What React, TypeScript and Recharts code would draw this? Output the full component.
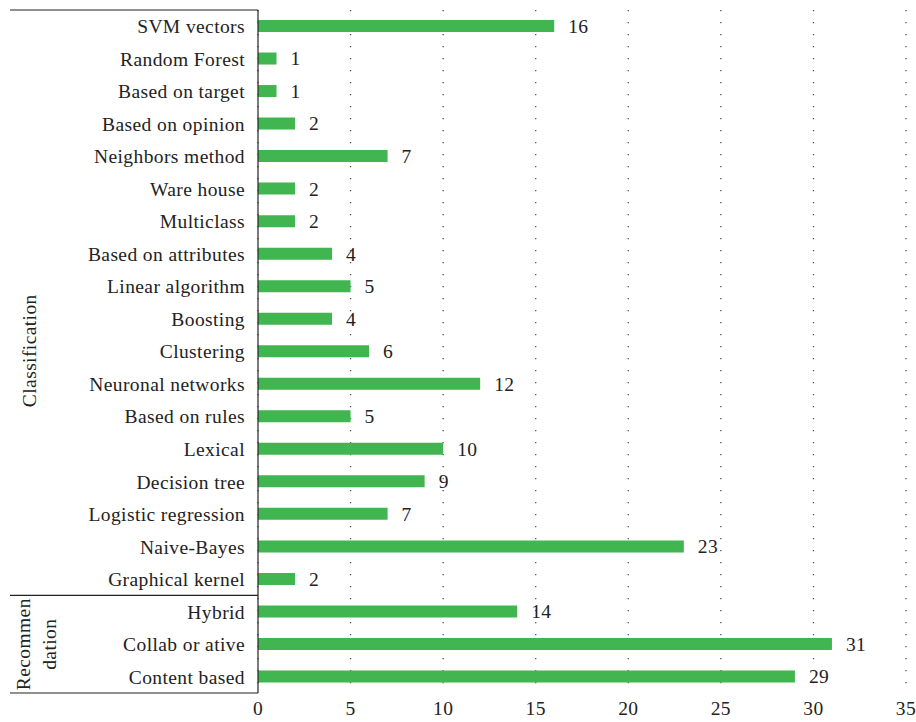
import React from 'react';
import { BarChart, Bar, XAxis, YAxis, CartesianGrid, LabelList } from 'recharts';

// categories top to bottom
const classificationMethods = [
  'SVM vectors', 'Random Forest', 'Based on target', 'Based on opinion', 'Neighbors method',
  'Ware house', 'Multiclass', 'Based on attributes', 'Linear algorithm', 'Boosting',
  'Clustering', 'Neuronal networks', 'Based on rules', 'Lexical', 'Decision tree',
  'Logistic regression', 'Naive-Bayes', 'Graphical kernel',
];
const classificationCounts = [16, 1, 1, 2, 7, 2, 2, 4, 5, 4, 6, 12, 5, 10, 9, 7, 23, 2];

const recommendationMethods = ['Hybrid', 'Collab or ative', 'Content based'];
const recommendationCounts = [14, 31, 29];

const xTicks = [0, 5, 10, 15, 20, 25, 30, 35];

const data = [
  ...classificationMethods.map((name, i) => ({ name, value: classificationCounts[i] })),
  ...recommendationMethods.map((name, i) => ({ name, value: recommendationCounts[i] })),
];

const W = 916;
const H = 722;
const TOP = 10;
const LEFT = 258;
const XAXIS_H = 29;
const BOTTOM = H - XAXIS_H;
const FONT = '"Liberation Serif", "Times New Roman", serif';
const textStyle = { fontSize: 19.5, fill: '#222', fontFamily: FONT, letterSpacing: 0.4 };

const App: React.FC = () => {
  const band = (BOTTOM - TOP) / data.length;
  const splitY = TOP + classificationMethods.length * band;
  const classMid = (TOP + splitY) / 2 + 48;
  const recMid = (splitY + BOTTOM) / 2;

  return (
    <div style={{ position: 'absolute', left: 0, top: 0, width: W, height: H, background: '#fff' }}>
      <BarChart
        width={W}
        height={H}
        data={data}
        layout="vertical"
        margin={{ top: TOP, right: 10, bottom: 0, left: 0 }}
        barCategoryGap={0}
      >
        <CartesianGrid horizontal={false} vertical={true} stroke="#555" strokeWidth={1.3} strokeDasharray="1.3 10.7" />
        <XAxis
          type="number"
          domain={[0, 35]}
          ticks={xTicks}
          height={XAXIS_H}
          axisLine={false}
          tickLine={false}
          tickMargin={2}
          tick={textStyle}
          interval={0}
        />
        <YAxis
          type="category"
          dataKey="name"
          width={LEFT}
          axisLine={{ stroke: '#222', strokeWidth: 1.2 }}
          tickLine={false}
          tickMargin={7}
          interval={0}
          tick={textStyle}
        />
        <Bar dataKey="value" fill="#41b54f" barSize={12} isAnimationActive={false}>
          <LabelList dataKey="value" position="right" offset={14} style={textStyle} />
        </Bar>
      </BarChart>
      <svg
        width={W}
        height={H}
        style={{ position: 'absolute', left: 0, top: 0, pointerEvents: 'none' }}
      >
        <g stroke="#222" strokeWidth={1.2}>
          <line x1={10} x2={LEFT} y1={TOP} y2={TOP} />
          <line x1={10} x2={LEFT} y1={splitY} y2={splitY} />
          <line x1={10} x2={LEFT} y1={BOTTOM} y2={BOTTOM} />
        </g>
        <g fontFamily={FONT} fontSize={19.5} fill="#222" textAnchor="middle" letterSpacing={0.4}>
          <text x={30} y={classMid} transform={`rotate(-90 30 ${classMid})`} dominantBaseline="central">
            Classification
          </text>
          <text x={24} y={recMid} transform={`rotate(-90 24 ${recMid})`} dominantBaseline="central">
            Recommen
          </text>
          <text x={50} y={recMid} transform={`rotate(-90 50 ${recMid})`} dominantBaseline="central">
            dation
          </text>
        </g>
      </svg>
    </div>
  );
};

export default App;
